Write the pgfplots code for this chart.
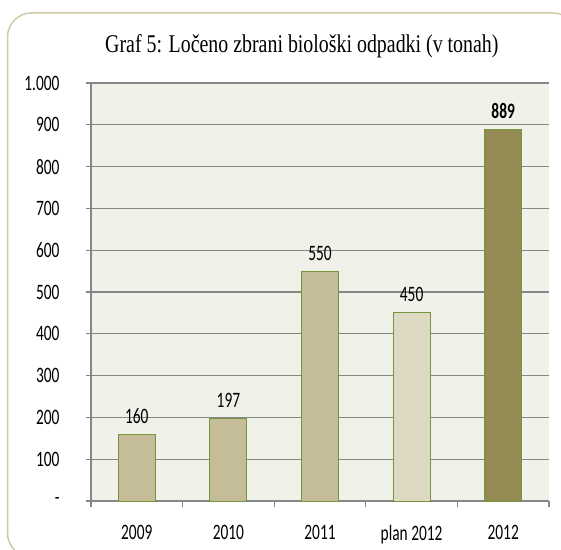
\documentclass[border=0pt]{standalone}
\usepackage{fontspec}
\setmainfont{Carlito}
\newfontfamily\narrowfont[FakeStretch=0.7]{Carlito}
\newfontfamily\titlefont[FakeStretch=0.78]{Liberation Serif}
\usepackage{pgfplots}
\pgfplotsset{compat=1.18}
\definecolor{plotbg}{HTML}{F0F2EA}
\definecolor{gridgray}{HTML}{868686}
\definecolor{barline}{HTML}{77933C}
\definecolor{bartan}{HTML}{C4BD97}
\definecolor{barlight}{HTML}{DDD9C3}
\definecolor{bardark}{HTML}{948A54}
\definecolor{frametan}{HTML}{D0CAA8}

\begin{document}
\begin{tikzpicture}[x=1pt,y=1pt]
\useasboundingbox (0,0) rectangle (561,549);
\fill[white] (0,0) rectangle (561,549);
\begin{scope}
  \clip (0,0) rectangle (561,549);
  \draw[frametan, line width=1.5pt, rounded corners=24pt] (7.5,-8) rectangle (577,536);
\end{scope}
\node[anchor=base west, inner sep=0pt, font=\titlefont\fontsize{25.5}{30}\selectfont] at (105,496)
  {Graf 5: Ločeno zbrani biološki odpadki (v tonah)};
\begin{axis}[
  at={(91pt,48pt)}, anchor=south west,
  scale only axis, width=458pt, height=418pt,
  ymin=0, ymax=1000,
  xmin=-0.5, xmax=4.5,
  ybar, bar width=37pt, bar shift=0pt,
  axis background/.style={fill=plotbg},
  axis lines*=left,
  axis line style={gridgray, line width=1.6pt},
  ymajorgrids, grid style={gridgray, line width=1.2pt},
  ytick={0,100,...,1000},
  yticklabels={-,100,200,300,400,500,600,700,800,900,1.000},
  xtick={0,1,2,3,4},
  xticklabels={2009,2010,2011,plan 2012,2012},
  minor xtick={-0.5,0.5,1.5,2.5,3.5,4.5},
  major x tick style={draw=none},
  minor tick length=6pt,
  major tick length=5pt,
  tick align=outside,
  tick style={gridgray, line width=1.2pt},
  tick label style={font=\narrowfont\fontsize{22}{26}\selectfont, black},
  yticklabel style={xshift=-23pt},
  xticklabel style={yshift=-16pt},
  /pgf/number format/assume math mode=true,
  nodes near coords,
  nodes near coords style={font=\narrowfont\fontsize{22}{26}\selectfont, black, yshift=7pt},
  clip=false,
]
\addplot[fill=bartan, draw=barline, line width=1pt] coordinates {(0,160)};
\addplot[fill=bartan, draw=barline, line width=1pt] coordinates {(1,197)};
\addplot[fill=bartan, draw=barline, line width=1pt] coordinates {(2,550)};
\addplot[fill=barlight, draw=barline, line width=1pt] coordinates {(3,450)};
\addplot[fill=bardark, draw=barline, line width=1pt,
  nodes near coords style={font=\narrowfont\fontsize{22}{26}\selectfont\bfseries}] coordinates {(4,889)};
\end{axis}
\end{tikzpicture}
\end{document}
